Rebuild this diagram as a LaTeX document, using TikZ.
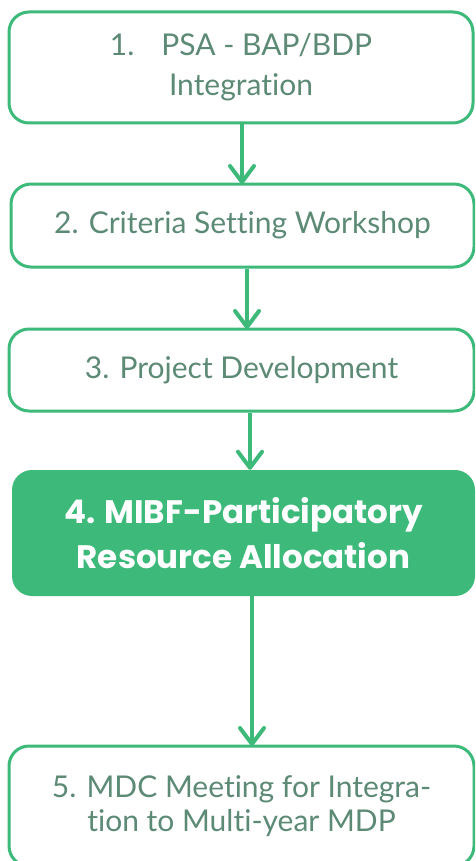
\documentclass[tikz,border=0pt]{standalone}
\usepackage{fontspec}
\setmainfont{Lato}[Ligatures=NoCommon]
\newfontfamily\keyfont{Poppins}
\usetikzlibrary{arrows.meta}
\definecolor{flowgreen}{HTML}{3DB97A}
\definecolor{flowtext}{HTML}{5C8A75}
\begin{document}
\begin{tikzpicture}[x=1pt,y=-1pt,
  stepbox/.style={draw=flowgreen, line width=3pt, rounded corners=20pt, fill=white,
    inner sep=0pt, text=flowtext, font=\fontsize{30}{38}\selectfont, align=center},
  keybox/.style={fill=flowgreen, rounded corners=20pt, inner sep=0pt, text=white,
    font=\keyfont\fontsize{32.5}{46}\selectfont\bfseries, align=center},
  arr/.style={draw=flowgreen, line width=4pt,
    -{Straight Barb[length=16pt,width=24pt,line cap=round,line join=round]}}]
\useasboundingbox (0,0) rectangle (475,861);
\clip (0,0) rectangle (475,861);
\node[stepbox, minimum width=464pt, minimum height=111pt,
  font=\fontsize{30}{40}\selectfont] (b1) at (241,67.5)
  {1.\hspace{0.9em}PSA - BAP/BDP\\Integration};
\node[stepbox, minimum width=463pt, minimum height=83pt] (b2) at (242.5,225.5)
  {2. Criteria Setting Workshop};
\node[stepbox, minimum width=465pt, minimum height=82pt] (b3) at (241.5,370)
  {3. Project Development};
\node[keybox, minimum width=463pt, minimum height=126pt] (b4) at (243.5,533)
  {4. MIBF-Participatory\\[-1pt]Resource Allocation};
\node[stepbox, minimum width=465pt, minimum height=120pt,
  font=\fontsize{30}{34}\selectfont] (b5) at (241.5,806)
  {5. MDC Meeting for Integra-\\tion to Multi-year MDP};
\draw[arr] (b1.south -| 242,0) -- ([yshift=-1.5pt]b2.north -| 242,0);
\draw[arr] (b2.south -| 247,0) -- ([yshift=-1.5pt]b3.north -| 247,0);
\draw[arr] (b3.south -| 250,0) -- (b4.north -| 250,0);
\draw[arr] (b4.south -| 252,0) -- ([yshift=-1.5pt]b5.north -| 252,0);
\end{tikzpicture}
\end{document}
